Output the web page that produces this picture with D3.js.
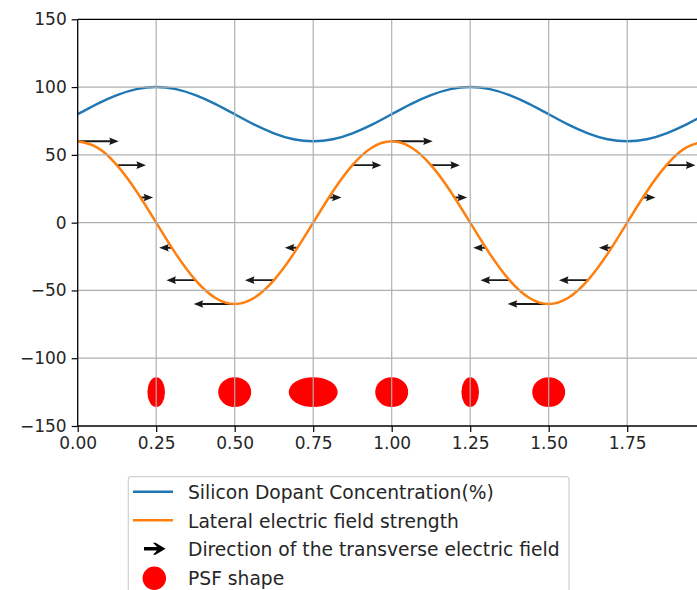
<!DOCTYPE html>
<html>
<head>
<meta charset="utf-8">
<script src="https://cdn.jsdelivr.net/npm/d3@7"></script>
<style>
  html, body { margin: 0; padding: 0; background: #fff; }
  svg { display: block; font-family: "DejaVu Sans", sans-serif; }
</style>
</head>
<body>
<svg id="chart" width="697" height="590"></svg>
<script>
// ---------------- data ----------------
const sampleX = d3.range(0, 33).map(i => i * 0.0625);
const dopantConcentration = [80, 87.7, 94.1, 98.5, 100, 98.5, 94.1, 87.7, 80, 72.3, 65.9, 61.5, 60, 61.5, 65.9, 72.3,
                             80, 87.7, 94.1, 98.5, 100, 98.5, 94.1, 87.7, 80, 72.3, 65.9, 61.5, 60, 61.5, 65.9, 72.3, 80];
const lateralField = [60, 55.4, 42.4, 23, 0, -23, -42.4, -55.4, -60, -55.4, -42.4, -23, 0, 23, 42.4, 55.4,
                      60, 55.4, 42.4, 23, 0, -23, -42.4, -55.4, -60, -55.4, -42.4, -23, 0, 23, 42.4, 55.4, 60];
const arrowX = [0, 0.125, 0.2, 0.3, 0.375, 0.5, 0.625, 0.7, 0.8, 0.875, 1.0, 1.125, 1.2, 1.3, 1.375, 1.5, 1.625, 1.7, 1.8, 1.875];
const arrowY = [60, 42.4, 18.5, -18.5, -42.4, -60, -42.4, -18.5, 18.5, 42.4, 60, 42.4, 18.5, -18.5, -42.4, -60, -42.4, -18.5, 18.5, 42.4];
const arrowU = [60, 42.4, 18.5, -18.5, -42.4, -60, -42.4, -18.5, 18.5, 42.4, 60, 42.4, 18.5, -18.5, -42.4, -60, -42.4, -18.5, 18.5, 42.4];
const psfX = [0.25, 0.5, 0.75, 1.0, 1.25, 1.5];
const psfY = [-125, -125, -125, -125, -125, -125];
const psfWidth = [0.056, 0.105, 0.156, 0.105, 0.056, 0.105];
const psfHeight = [22, 22, 22, 22, 22, 22];
const xTicks = [0, 0.25, 0.5, 0.75, 1.0, 1.25, 1.5, 1.75];
const yTicks = [-150, -100, -50, 0, 50, 100, 150];
const legendLabels = ["Silicon Dopant Concentration(%)", "Lateral electric field strength",
                      "Direction of the transverse electric field", "PSF shape"];

// ---------------- layout ----------------
const svg = d3.select("#chart");
const L = 77.7, T = 19.3, B = 426, R = 705.7;
const x = d3.scaleLinear().domain([0, 2]).range([L, R]);
const y = d3.scaleLinear().domain([-150, 150]).range([B, T]);
const uLen = d3.scaleLinear().domain([0, 60]).range([0, 41]);
const blue = "#1f77b4", orange = "#ff7f0e";

svg.append("defs").append("clipPath").attr("id", "clip")
  .append("rect").attr("x", L).attr("y", T).attr("width", R - L).attr("height", B - T);

const plot = svg.append("g").attr("clip-path", "url(#clip)");

// PSF ellipses
plot.append("g").selectAll("ellipse").data(psfX).join("ellipse")
  .attr("cx", d => x(d))
  .attr("cy", (d, i) => y(psfY[i]))
  .attr("rx", (d, i) => (x(psfWidth[i]) - x(0)) / 2)
  .attr("ry", (d, i) => (y(0) - y(psfHeight[i])) / 2)
  .attr("fill", "red");

// quiver arrows
const w = 1.9, headLen = 9.5, headAxis = 8.5, headW = 7.6;
function arrowPath(len) {
  const L0 = Math.abs(len);
  const s = Math.sign(len) || 1;
  let hl = headLen, ha = headAxis, hw = headW, sw = w;
  if (L0 < headLen) { const k = L0 / headLen; hl *= k; ha *= k; hw *= k; sw *= k; }
  const pts = [
    [0, -sw / 2], [L0 - ha, -sw / 2], [L0 - hl, -hw / 2], [L0, 0],
    [L0 - hl, hw / 2], [L0 - ha, sw / 2], [0, sw / 2]
  ];
  return "M" + pts.map(p => [p[0] * s, p[1]].join(",")).join("L") + "Z";
}
plot.append("g").selectAll("path").data(arrowX).join("path")
  .attr("transform", (d, i) => `translate(${x(d)},${y(arrowY[i])})`)
  .attr("d", (d, i) => arrowPath(uLen(arrowU[i])))
  .attr("fill", "#1a1a1a");

// grid
const grid = svg.append("g").attr("stroke", "#b0b0b0").attr("stroke-width", 1.2);
grid.selectAll(".gx").data(xTicks.filter(t => x(t) > L + 1 && x(t) < R - 1)).join("line")
  .attr("x1", d => x(d)).attr("x2", d => x(d)).attr("y1", T).attr("y2", B);
grid.selectAll(".gy").data(yTicks.filter(t => t > -150 && t < 150)).join("line")
  .attr("x1", L).attr("x2", R).attr("y1", d => y(d)).attr("y2", d => y(d));

// lines
const line = d3.line().x((d, i) => x(sampleX[i])).y(d => y(d)).curve(d3.curveNatural);
plot.append("path").datum(dopantConcentration).attr("d", line)
  .attr("fill", "none").attr("stroke", blue).attr("stroke-width", 2.5);
plot.append("path").datum(lateralField).attr("d", line)
  .attr("fill", "none").attr("stroke", orange).attr("stroke-width", 2.5);

// axes
const fmtX = d3.format(".2f");
const xAxis = d3.axisBottom(x).tickValues(xTicks).tickFormat(fmtX).tickSize(6).tickPadding(5);
const yAxis = d3.axisLeft(y).tickValues(yTicks).tickFormat(d => d < 0 ? "\u2212" + Math.abs(d) : String(d)).tickSize(6).tickPadding(5);
const gx = svg.append("g").attr("transform", `translate(0,${B})`).call(xAxis);
const gy = svg.append("g").attr("transform", `translate(${L},0)`).call(yAxis);
[gx, gy].forEach(g => {
  g.select(".domain").remove();
  g.selectAll(".tick line").attr("stroke", "#000").attr("stroke-width", 1.2);
  g.selectAll(".tick text").attr("fill", "#262626").attr("font-size", 17)
    .attr("font-family", "DejaVu Sans, sans-serif");
});
// spines
const sp = svg.append("g").attr("stroke", "#000").attr("stroke-width", 1.3);
sp.append("line").attr("x1", L).attr("x2", L).attr("y1", T).attr("y2", B);
sp.append("line").attr("x1", L).attr("x2", R).attr("y1", T).attr("y2", T);
sp.append("line").attr("x1", L).attr("x2", R).attr("y1", B).attr("y2", B);

// legend
const lg = svg.append("g");
lg.append("rect").attr("x", 128.3).attr("y", 476.7).attr("width", 440.7).attr("height", 130)
  .attr("rx", 3).attr("fill", "#fff").attr("fill-opacity", 0.8).attr("stroke", "#d0d0d0").attr("stroke-width", 1.2);
const rowY = [491.7, 520.2, 548.7, 577.2];
lg.append("line").attr("x1", 133).attr("x2", 173).attr("y1", rowY[0]).attr("y2", rowY[0])
  .attr("stroke", blue).attr("stroke-width", 2.5);
lg.append("line").attr("x1", 133).attr("x2", 173).attr("y1", rowY[1]).attr("y2", rowY[1])
  .attr("stroke", orange).attr("stroke-width", 2.5);
lg.append("path").attr("transform", `translate(144,${rowY[2]})`)
  .attr("d", "M0,-1.8L13,-1.8L9,-6L11.5,-6L21.5,0L11.5,6L9,6L13,1.8L0,1.8Z").attr("fill", "#000");
lg.append("circle").attr("cx", 154.3).attr("cy", rowY[3] + 1).attr("r", 11.7).attr("fill", "red");
lg.selectAll("text").data(legendLabels).join("text")
  .attr("x", 188).attr("y", (d, i) => rowY[i] + 7.3)
  .attr("font-size", 18.7).attr("fill", "#262626").text(d => d);
</script>
</body>
</html>
